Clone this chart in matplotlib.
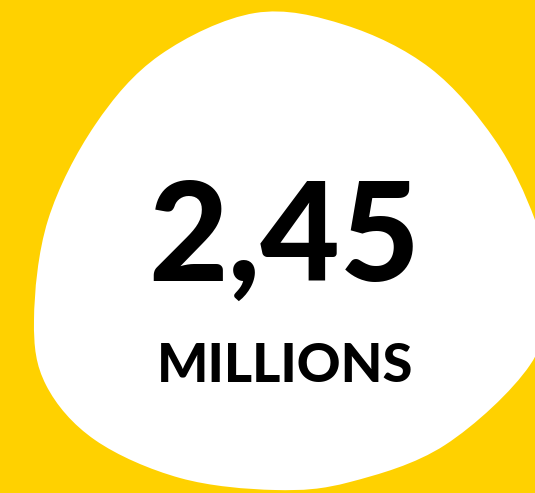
import numpy as np
import matplotlib
matplotlib.use("Agg")
import matplotlib.pyplot as plt
from matplotlib.path import Path
from matplotlib.patches import PathPatch

# Texte
VALEUR = "2,45"
UNITE = "MILLIONS"

C_FOND = "#ffd100"
C_BLOB = "#ffffff"
C_TEXTE = "#000000"

# contour de la tache blanche (coordonnées en pixels, y vers le bas)
blob_x = [255, 345, 430, 495, 535, 550, 530, 445, 350, 275, 180, 95, 46, 34, 48, 95, 160]
blob_y = [13, 25, 68, 140, 220, 290, 365, 445, 482, 490, 478, 440, 385, 320, 220, 125, 55]


def blob_path(xs, ys, tension=1 / 6):
    pts = np.column_stack([xs, ys]).astype(float)
    n = len(pts)
    verts = [pts[0]]
    codes = [Path.MOVETO]
    for i in range(n):
        p0, p1, p2, p3 = pts[i - 1], pts[i], pts[(i + 1) % n], pts[(i + 2) % n]
        c1 = p1 + (p2 - p0) * tension
        c2 = p2 - (p3 - p1) * tension
        verts += [c1, c2, p2]
        codes += [Path.CURVE4] * 3
    return Path(verts, codes)


fig = plt.figure(figsize=(5.35, 4.93), dpi=100)
fig.patch.set_facecolor(C_FOND)
ax = fig.add_axes([0, 0, 1, 1])
ax.set_xlim(0, 535)
ax.set_ylim(493, 0)
ax.axis("off")

ax.add_patch(PathPatch(blob_path(blob_x, blob_y), facecolor=C_BLOB, edgecolor="none"))

ax.text(284, 281, VALEUR, ha="center", va="baseline", fontsize=99,
        fontweight="black", family=["Lato", "DejaVu Sans"], color=C_TEXTE)
ax.text(285, 382, UNITE, ha="center", va="baseline", fontsize=39,
        fontweight="black", family=["Lato", "DejaVu Sans"], color=C_TEXTE)

fig.savefig("out.png", dpi=100, facecolor=C_FOND)
